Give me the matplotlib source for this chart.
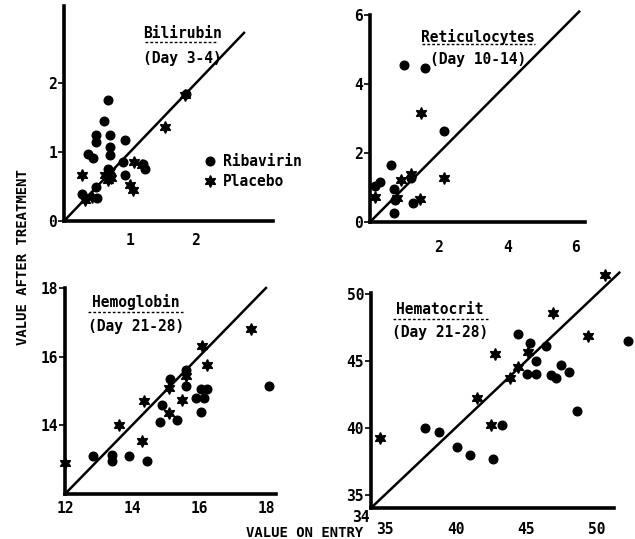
import matplotlib
matplotlib.use("Agg")
import matplotlib.pyplot as plt
from matplotlib.lines import Line2D

plt.rcParams['font.family'] = ['DejaVu Sans Mono']
plt.rcParams['font.weight'] = 'bold'

W, H = 635, 539

# ---------------- data ----------------
# Bilirubin (Day 3-4)
bili_rib_x = [0.67, 0.60, 0.48, 0.48, 0.70, 0.93, 0.70, 0.70, 0.37, 0.44, 0.89, 0.67, 0.92, 1.23, 0.28, 0.48, 0.50, 1.85, 1.20]
bili_rib_y = [1.76, 1.45, 1.25, 1.15, 1.25, 1.17, 1.08, 0.96, 0.97, 0.92, 0.86, 0.75, 0.67, 0.76, 0.39, 0.49, 0.34, 1.85, 0.82]
bili_pla_x = [1.53, 1.00, 1.04, 1.06, 1.18, 0.28, 0.32, 0.42, 0.62, 0.70, 0.72, 0.66, 1.83]
bili_pla_y = [1.37, 0.52, 0.45, 0.86, 0.81, 0.67, 0.30, 0.35, 0.67, 0.72, 0.63, 0.60, 1.83]

# Reticulocytes (Day 10-14)
retic_rib_x = [1.00, 1.60, 2.15, 0.60, 0.30, 0.15, 0.70, 0.72, 0.70, 1.25, 1.20]
retic_rib_y = [4.55, 4.45, 2.65, 1.65, 1.15, 1.05, 0.95, 0.65, 0.25, 0.55, 1.28]
retic_pla_x = [1.50, 0.90, 1.20, 2.15, 1.45, 0.80, 0.15]
retic_pla_y = [3.15, 1.22, 1.40, 1.27, 0.66, 0.70, 0.72]

# Hemoglobin (Day 21-28)
hgb_rib_x = [12.85, 13.40, 13.40, 13.90, 14.45, 14.85, 14.90, 15.35, 15.15, 15.60, 15.60, 15.90, 16.15, 16.05, 16.25, 16.05, 18.10]
hgb_rib_y = [13.10, 13.15, 12.95, 13.10, 12.95, 14.10, 14.60, 14.15, 15.35, 15.60, 15.15, 14.80, 14.80, 15.05, 15.05, 14.40, 15.15]
hgb_pla_x = [12.00, 13.60, 14.35, 14.30, 15.10, 15.10, 15.50, 15.60, 16.10, 16.25, 17.55]
hgb_pla_y = [12.90, 14.00, 14.70, 13.55, 15.10, 14.35, 14.75, 15.45, 16.30, 15.75, 16.80]

# Hematocrit (Day 21-28)
hct_rib_x = [37.85, 38.85, 40.10, 41.00, 42.65, 43.25, 44.40, 45.25, 45.05, 45.70, 45.70, 46.40, 46.75, 47.10, 47.45, 48.00, 48.60, 52.20]
hct_rib_y = [39.95, 39.70, 38.55, 38.00, 37.65, 40.20, 47.05, 46.35, 44.05, 45.00, 44.05, 46.10, 43.95, 43.75, 44.70, 44.20, 41.25, 46.50]
hct_pla_x = [34.65, 42.80, 41.50, 42.50, 43.85, 44.45, 45.10, 46.90, 49.40, 50.60]
hct_pla_y = [39.25, 45.55, 42.20, 40.20, 43.75, 44.55, 45.65, 48.60, 46.90, 51.40]

# ---------------- figure ----------------
fig = plt.figure(figsize=(W / 100, H / 100), dpi=100)


def fx(x):
    return x / W


def fy(y):
    return 1 - y / H


def make_ax(x0, y0, x1, y1):
    # pixel box: left, top, right, bottom
    return fig.add_axes([fx(x0), fy(y1), (x1 - x0) / W, (y1 - y0) / H])


MS_C = 6.2
MS_S = 8.5
STAR = (6, 1, 0)


def style(ax, xlim, ylim, xticks, yticks, xlabels, ylabels, xpad, xb=None, yb=None,
          diag=None):
    ax.set_xlim(*xlim)
    ax.set_ylim(*ylim)
    for s in ['top', 'right']:
        ax.spines[s].set_visible(False)
    for s in ['left', 'bottom']:
        ax.spines[s].set_linewidth(2.6)
        ax.spines[s].set_color('black')
    if xb:
        ax.spines['bottom'].set_bounds(*xb)
    if yb:
        ax.spines['left'].set_bounds(*yb)
    ax.set_xticks(xticks)
    ax.set_xticklabels(xlabels)
    ax.set_yticks(yticks)
    ax.set_yticklabels(ylabels)
    ax.tick_params(axis='x', length=0, pad=xpad, labelsize=10.5)
    ax.tick_params(axis='y', length=4, width=1.2, pad=1, labelsize=10.5)
    ax.patch.set_alpha(0)
    if diag:
        ax.plot(diag, diag, color='black', lw=1.8, zorder=2, clip_on=False)


def scat(ax, rx, ry, px, py):
    ax.plot(rx, ry, 'o', color='black', ms=MS_C, mec='black', zorder=3, clip_on=False,
            label='Ribavirin')
    ax.plot(px, py, marker=STAR, ls='none', color='black', ms=MS_S, zorder=3,
            clip_on=False, label='Placebo')


# Panel 1: Bilirubin
ax1 = make_ax(64, 6, 273, 221)
style(ax1, (0, 3.17), (0, 3.12), [1, 2], [0, 1, 2], ['1', '2'], ['0', '1', '2'], 9,
      diag=[0, 2.73])
scat(ax1, bili_rib_x, bili_rib_y, bili_pla_x, bili_pla_y)

# Panel 2: Reticulocytes
ax2 = make_ax(370, 15, 585, 222)
style(ax2, (0, 6.27), (0, 6.0), [2, 4, 6], [0, 2, 4, 6], ['2', '4', '6'], ['0', '2', '4', '6'], 13,
      diag=[0, 6.1])
scat(ax2, retic_rib_x, retic_rib_y, retic_pla_x, retic_pla_y)

# Panel 3: Hemoglobin
ax3 = make_ax(65, 288, 276, 494)
style(ax3, (12, 18.3), (12, 18.0), [12, 14, 16, 18], [14, 16, 18], ['12', '14', '16', '18'],
      ['14', '16', '18'], 5, diag=[12, 18.0])
scat(ax3, hgb_rib_x, hgb_rib_y, hgb_pla_x, hgb_pla_y)

# Panel 4: Hematocrit
ax4 = make_ax(371, 270, 632, 508)
style(ax4, (34, 52.5), (34, 51.8), [35, 40, 45, 50], [35, 40, 45, 50], ['35', '40', '45', '50'],
      ['35', '40', '45', '50'], 10, xb=(34, 51.2), yb=(34, 50.1), diag=[34, 51.6])
scat(ax4, hct_rib_x, hct_rib_y, hct_pla_x, hct_pla_y)
fig.text(fx(361), fy(517), '34', ha='center', va='center', fontsize=10.5)

# titles
titles = [
    ('Bilirubin', '(Day 3-4)', 182, 33, 58, 145, 218, 42),
    ('Reticulocytes', '(Day 10-14)', 478, 37, 60, 422, 535, 44),
    ('Hemoglobin', '(Day 21-28)', 136, 302, 326, 88, 183, 312),
    ('Hematocrit', '(Day 21-28)', 440, 309, 333, 393, 488, 319),
]
for t1, t2, cx, y1, y2, ux0, ux1, uy in titles:
    fig.text(fx(cx), fy(y1), t1, ha='center', va='center', fontsize=10.5)
    fig.text(fx(cx), fy(y2), t2, ha='center', va='center', fontsize=10.5)
    fig.add_artist(Line2D([fx(ux0), fx(ux1)], [fy(uy), fy(uy)], color='black', lw=1.0,
                          ls=(0, (2, 1.5)), transform=fig.transFigure))

# legend (panel 1)
h, l = ax1.get_legend_handles_labels()
fig.legend(h, l, loc='upper left', bbox_to_anchor=(fx(201), fy(154)), frameon=False,
           fontsize=10.5, handletextpad=0.3, labelspacing=0.35, handlelength=1.2,
           borderaxespad=0, borderpad=0)

# axis labels
fig.text(fx(23), fy(257), 'VALUE AFTER TREATMENT', rotation=90, ha='center', va='center',
         fontsize=10)
fig.text(fx(305), fy(533), 'VALUE ON ENTRY', ha='center', va='center', fontsize=10)

fig.savefig('out.png', dpi=100)
